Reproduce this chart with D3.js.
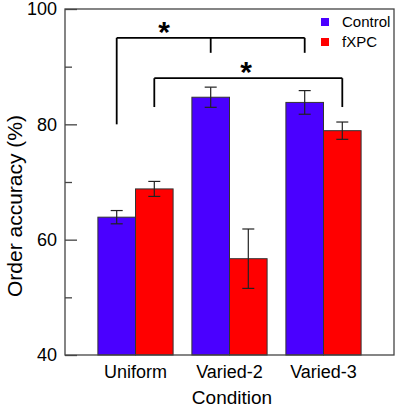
<!DOCTYPE html>
<html><head><meta charset="utf-8">
<script src="https://cdn.jsdelivr.net/npm/d3@7"></script>
<style>body{margin:0;background:#fff}svg{display:block;font-family:"Liberation Sans",Arial,sans-serif}</style>
</head><body>
<script>
const categories = ["Uniform", "Varied-2", "Varied-3"];
const seriesNames = ["Control", "fXPC"];
const controlValues = [63.9, 84.7, 83.8];
const controlErrors = [1.15, 1.75, 2.05];
const fxpcValues = [68.8, 56.7, 78.9];
const fxpcErrors = [1.3, 5.15, 1.5];
const yTicks = [40, 60, 80, 100];
const yMinorTicks = [50, 70, 90];
const colors = ["#4a00ff", "#ff0000"];
// significance brackets: [category, series] endpoints with heights
const brackets = [
  {top: 95, ends: [[0, 0, 80], [1, 0, 92.4], [2, 0, 92.4]]},
  {top: 88, ends: [[0, 1, 83], [2, 1, 83]]}
];

const W = 397, H = 408;
const m = {left: 65, right: 3, top: 9, bottom: 53};
const svg = d3.select("body").append("svg").attr("width", W).attr("height", H);

const x = d3.scaleBand().domain(categories).range([m.left, W - m.right]).paddingInner(0.2).paddingOuter(0.35);
const xs = d3.scaleBand().domain(seriesNames).range([0, x.bandwidth()]);
const y = d3.scaleLinear().domain([40, 100]).range([H - m.bottom, m.top]);

const data = [];
categories.forEach((c, i) => {
  data.push({c, s: "Control", v: controlValues[i], e: controlErrors[i], k: 0});
  data.push({c, s: "fXPC", v: fxpcValues[i], e: fxpcErrors[i], k: 1});
});

// bars
svg.selectAll("rect.bar").data(data).join("rect").attr("class", "bar")
  .attr("x", d => x(d.c) + xs(d.s)).attr("width", xs.bandwidth())
  .attr("y", d => y(d.v)).attr("height", d => y(40) - y(d.v))
  .attr("fill", d => colors[d.k]).attr("stroke", "#333").attr("stroke-width", 1);

// error bars
const eb = svg.append("g").attr("stroke", "#222").attr("stroke-width", 1.2);
data.forEach(d => {
  const cx = x(d.c) + xs(d.s) + xs.bandwidth() / 2;
  eb.append("line").attr("x1", cx).attr("x2", cx).attr("y1", y(d.v + d.e)).attr("y2", y(d.v - d.e));
  [d.v + d.e, d.v - d.e].forEach(v => eb.append("line").attr("x1", cx - 6).attr("x2", cx + 6).attr("y1", y(v)).attr("y2", y(v)));
});

// frame
svg.append("rect").attr("x", m.left).attr("y", m.top).attr("width", W - m.right - m.left).attr("height", H - m.bottom - m.top)
  .attr("fill", "none").attr("stroke", "#444").attr("stroke-width", 1.3);

// y axis
const yAxis = d3.axisLeft(y).tickValues(yTicks).tickSizeInner(-12).tickSizeOuter(0).tickPadding(8);
const ga = svg.append("g").attr("transform", `translate(${m.left},0)`).call(yAxis);
ga.select(".domain").remove();
ga.selectAll("line").attr("stroke", "#444").attr("stroke-width", 1.3);
ga.selectAll("text").attr("font-size", 18).attr("fill", "#000").attr("font-family", "Liberation Sans, Arial, sans-serif");
ga.selectAll("text").attr("x", -8);
const gm = svg.append("g").attr("transform", `translate(${m.left},0)`).call(d3.axisLeft(y).tickValues(yMinorTicks).tickSizeInner(-7).tickSizeOuter(0).tickFormat(""));
gm.select(".domain").remove();
gm.selectAll("line").attr("stroke", "#444").attr("stroke-width", 1.3);

// x axis labels
const gx = svg.append("g").attr("transform", `translate(0,${H - m.bottom})`).call(d3.axisBottom(x).tickSize(0).tickPadding(10));
gx.select(".domain").remove();
gx.selectAll("text").attr("font-size", 18).attr("fill", "#000").attr("font-family", "Liberation Sans, Arial, sans-serif");

// axis titles
svg.append("text").attr("x", 232).attr("y", 404).attr("text-anchor", "middle").attr("font-size", 19).text("Condition");
svg.append("text").attr("transform", "translate(22,206) rotate(-90)").attr("text-anchor", "middle").attr("font-size", 21).text("Order accuracy (%)");

// brackets
const bx = (ci, si) => x(categories[ci]) + xs(seriesNames[si]) + xs.bandwidth() / 2;
const bg = svg.append("g").attr("stroke", "#000").attr("stroke-width", 1.8).attr("fill", "none");
brackets.forEach(b => {
  const xsArr = b.ends.map(e => bx(e[0], e[1]));
  bg.append("line").attr("x1", d3.min(xsArr)).attr("x2", d3.max(xsArr)).attr("y1", y(b.top)).attr("y2", y(b.top));
  b.ends.forEach(e => bg.append("line").attr("x1", bx(e[0], e[1])).attr("x2", bx(e[0], e[1])).attr("y1", y(b.top)).attr("y2", y(e[2])));
});
svg.append("text").attr("x", 164).attr("y", 42).attr("text-anchor", "middle").attr("font-size", 30).attr("font-weight", "bold").text("*");
svg.append("text").attr("x", 246).attr("y", 82).attr("text-anchor", "middle").attr("font-size", 30).attr("font-weight", "bold").text("*");

// legend
seriesNames.forEach((s, i) => {
  const ly = 18 + i * 20;
  svg.append("rect").attr("x", 321).attr("y", ly).attr("width", 8).attr("height", 8).attr("fill", colors[i]);
  svg.append("text").attr("x", 342).attr("y", ly + 9).attr("font-size", 15).text(s);
});
</script>
</body></html>
